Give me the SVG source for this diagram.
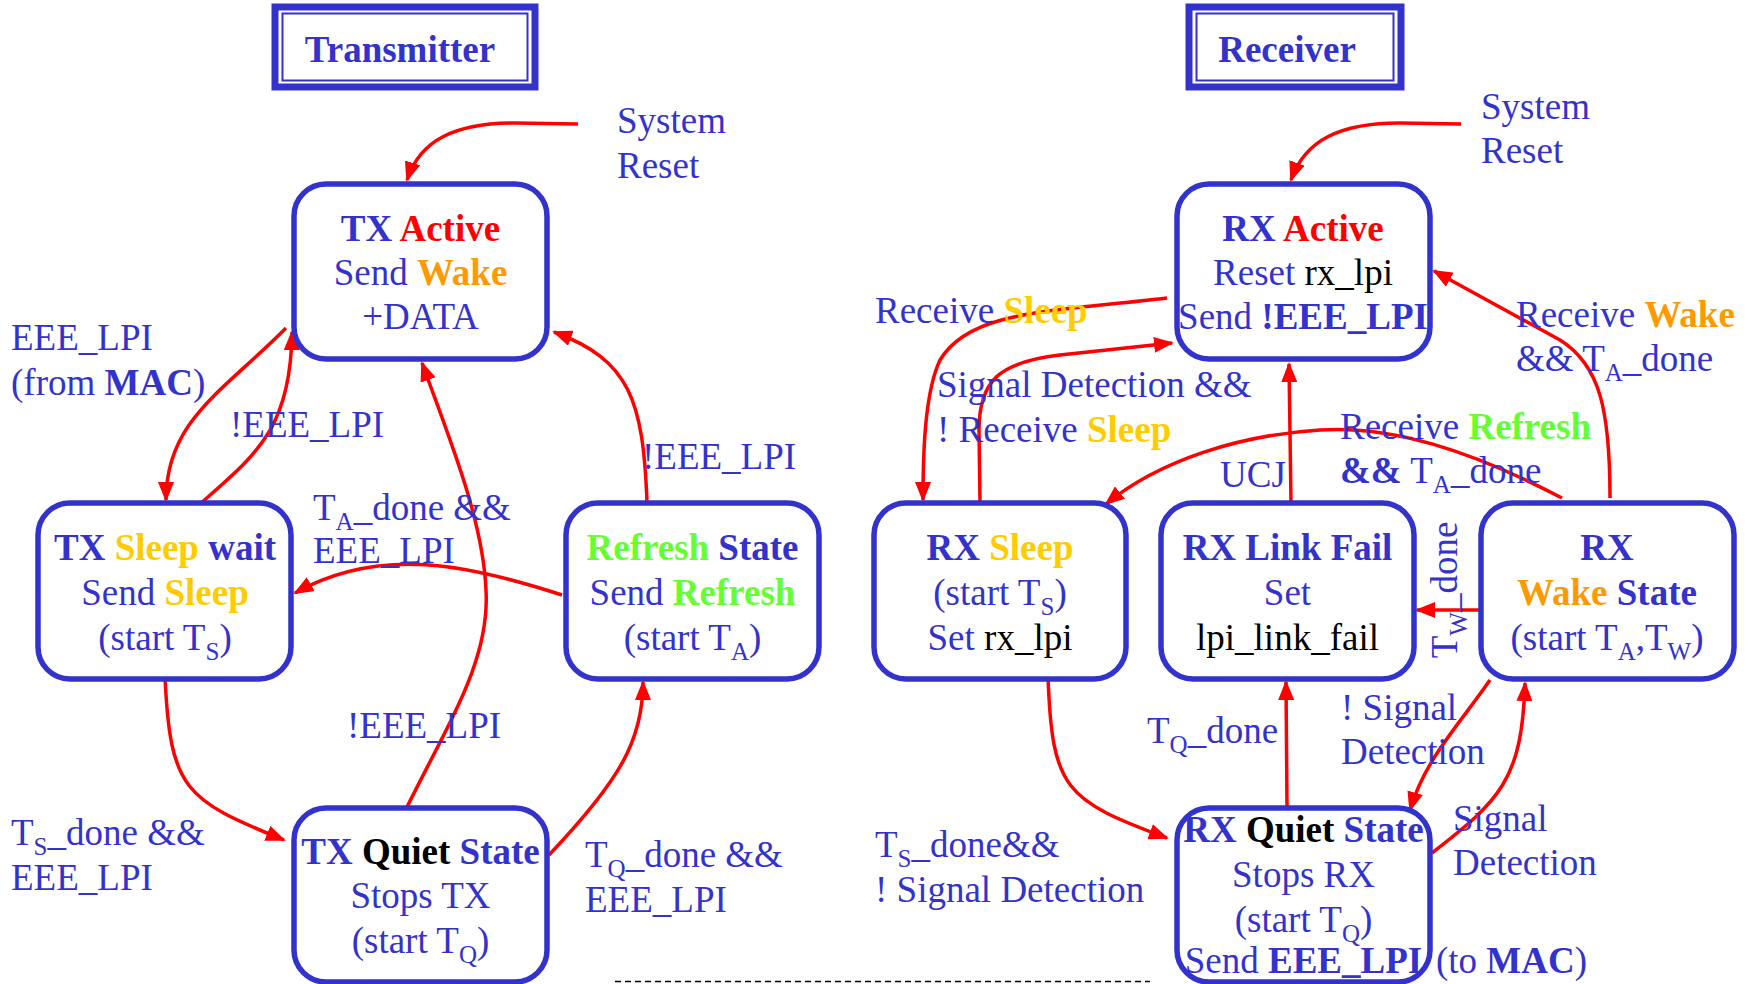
<svg xmlns="http://www.w3.org/2000/svg" width="1755" height="984" viewBox="0 0 1755 984">
<defs>
<style>
text{font-family:"Liberation Serif","Times New Roman",serif;font-size:37px;fill:#3333CC}
.b{font-weight:bold}
.red{fill:#FF0000}
.or{fill:#FF9900}
.yl{fill:#FFCC00}
.gr{fill:#66FF33}
.bk{fill:#000000}
.sub{font-size:25px}
.node{fill:#FFFFFF;stroke:#3333CC;stroke-width:5.5}
.edge{fill:none;stroke:#FF0000;stroke-width:3.5;marker-end:url(#ah)}
.mid{text-anchor:middle}
</style>
<marker id="ah" markerWidth="20" markerHeight="16" refX="18" refY="8" orient="auto" markerUnits="userSpaceOnUse">
<path d="M0,0 L20,8 L0,16 z" fill="#FF0000"/>
</marker>
</defs>
<rect width="1755" height="984" fill="#FFFFFF"/>

<!-- Titles -->
<g id="title-tx">
<rect x="275" y="7" width="260" height="80" fill="none" stroke="#3333CC" stroke-width="7"/>
<rect x="282.5" y="13.5" width="245" height="67" fill="none" stroke="#3333CC" stroke-width="2"/>
<text x="400" y="62" class="b mid">Transmitter</text>
</g>
<g id="title-rx">
<rect x="1189" y="7" width="212" height="80" fill="none" stroke="#3333CC" stroke-width="7"/>
<rect x="1196.5" y="13.5" width="197" height="67" fill="none" stroke="#3333CC" stroke-width="2"/>
<text x="1287" y="62" class="b mid">Receiver</text>
</g>

<!-- Connectors -->
<g id="connectors">
<path class="edge" d="M578,124 L515,123 C455,123 420,140 407,180"/>
<path class="edge" d="M286,328 C225,390 166,420 166,500"/>
<path class="edge" d="M200,504 C255,455 291,430 292,332"/>
<path class="edge" d="M647,502 C643,400 630,360 554,332"/>
<path class="edge" d="M405,811 C450,720 490,660 486,590 C483,520 450,440 422,363"/>
<path class="edge" d="M562,595 C470,565 380,545 295,593"/>
<path class="edge" d="M165,676 C170,790 185,800 284,840"/>
<path class="edge" d="M549,855 C620,780 643,740 643,682"/>

<path class="edge" d="M1461,124 L1400,123 C1340,123 1305,140 1291,180"/>
<path class="edge" d="M1167,298 C1050,312 970,310 940,360 C925,392 923,450 923,500"/>
<path class="edge" d="M980,502 L979,430 C979,380 1000,362 1060,355 L1172,343"/>
<path class="edge" d="M1562,498 C1470,450 1390,425 1320,430 C1240,435 1160,460 1106,504"/>
<path class="edge" d="M1610,498 C1610,410 1600,365 1560,340 L1434,271"/>
<path class="edge" d="M1291,502 L1289,364"/>
<path class="edge" d="M1479,610 L1417,610"/>
<path class="edge" d="M1048,676 C1052,790 1065,800 1167,838"/>
<path class="edge" d="M1287,806 L1286,682"/>
<path class="edge" d="M1490,680 C1455,730 1425,760 1410,810"/>
<path class="edge" d="M1432,853 C1500,800 1522,780 1525,683"/>
</g>

<!-- TX nodes -->
<g id="tx-active">
<rect class="node" x="294" y="184" width="253" height="175" rx="32"/>
<text x="420.5" y="241" class="mid"><tspan class="b">TX </tspan><tspan class="b red">Active</tspan></text>
<text x="420.5" y="285" class="mid">Send <tspan class="b or">Wake</tspan></text>
<text x="420.5" y="329" class="mid">+DATA</text>
</g>
<g id="tx-sleep">
<rect class="node" x="38" y="503" width="253" height="176" rx="32"/>
<text x="165" y="560" class="mid b">TX <tspan class="yl">Sleep</tspan> wait</text>
<text x="165" y="605" class="mid">Send <tspan class="b yl">Sleep</tspan></text>
<text x="165" y="650" class="mid">(start T<tspan class="sub" dy="10">S</tspan><tspan dy="-10">)</tspan></text>
</g>
<g id="tx-refresh">
<rect class="node" x="566" y="503" width="253" height="176" rx="32"/>
<text x="692.5" y="560" class="mid b"><tspan class="gr">Refresh</tspan> State</text>
<text x="692.5" y="605" class="mid">Send <tspan class="b gr">Refresh</tspan></text>
<text x="692.5" y="650" class="mid">(start T<tspan class="sub" dy="10">A</tspan><tspan dy="-10">)</tspan></text>
</g>
<g id="tx-quiet">
<rect class="node" x="294" y="808" width="253" height="174" rx="32"/>
<text x="420.5" y="864" class="mid b">TX <tspan class="bk">Quiet</tspan> State</text>
<text x="420.5" y="908" class="mid">Stops TX</text>
<text x="420.5" y="953" class="mid">(start T<tspan class="sub" dy="10">Q</tspan><tspan dy="-10">)</tspan></text>
</g>

<!-- RX nodes -->
<g id="rx-active">
<rect class="node" x="1177" y="184" width="253" height="175" rx="32"/>
<text x="1303" y="241" class="mid b">RX <tspan class="red">Active</tspan></text>
<text x="1303" y="285" class="mid">Reset <tspan class="bk">rx_lpi</tspan></text>
<text x="1303" y="329" class="mid">Send <tspan class="b">!EEE_LPI</tspan></text>
</g>
<g id="rx-sleep">
<rect class="node" x="874" y="503" width="252" height="176" rx="32"/>
<text x="1000" y="560" class="mid b">RX <tspan class="yl">Sleep</tspan></text>
<text x="1000" y="605" class="mid">(start T<tspan class="sub" dy="10">S</tspan><tspan dy="-10">)</tspan></text>
<text x="1000" y="650" class="mid">Set <tspan class="bk">rx_lpi</tspan></text>
</g>
<g id="rx-linkfail">
<rect class="node" x="1161" y="503" width="253" height="176" rx="32"/>
<text x="1287.5" y="560" class="mid b">RX Link Fail</text>
<text x="1287.5" y="605" class="mid">Set</text>
<text x="1287.5" y="650" class="mid bk">lpi_link_fail</text>
</g>
<g id="rx-wake">
<rect class="node" x="1481" y="503" width="253" height="176" rx="32"/>
<text x="1607" y="560" class="mid b">RX</text>
<text x="1607" y="605" class="mid b"><tspan class="or">Wake</tspan> State</text>
<text x="1607" y="650" class="mid">(start T<tspan class="sub" dy="10">A</tspan><tspan dy="-10">,T</tspan><tspan class="sub" dy="10">W</tspan><tspan dy="-10">)</tspan></text>
</g>
<g id="rx-quiet">
<rect class="node" x="1177" y="808" width="253" height="174" rx="32"/>
<text x="1303.5" y="842" class="mid b">RX <tspan class="bk">Quiet</tspan> State</text>
<text x="1303.5" y="887" class="mid">Stops RX</text>
<text x="1303.5" y="932" class="mid">(start T<tspan class="sub" dy="10">Q</tspan><tspan dy="-10">)</tspan></text>
<text x="1303.5" y="973" class="mid">Send <tspan class="b">EEE_LPI</tspan></text>
</g>

<!-- Labels -->
<g id="labels">
<text x="617" y="133">System</text>
<text x="617" y="178">Reset</text>
<text x="11" y="350">EEE_LPI</text>
<text x="11" y="395">(from <tspan class="b">MAC</tspan>)</text>
<text x="230" y="437">!EEE_LPI</text>
<text x="642" y="469">!EEE_LPI</text>
<text x="313" y="520">T<tspan class="sub" dy="10">A</tspan><tspan dy="-10">_done &amp;&amp;</tspan></text>
<text x="313" y="563">EEE_LPI</text>
<text x="347" y="738">!EEE_LPI</text>
<text x="11" y="845">T<tspan class="sub" dy="10">S</tspan><tspan dy="-10">_done &amp;&amp;</tspan></text>
<text x="11" y="890">EEE_LPI</text>
<text x="585" y="867">T<tspan class="sub" dy="10">Q</tspan><tspan dy="-10">_done &amp;&amp;</tspan></text>
<text x="585" y="912">EEE_LPI</text>

<text x="1481" y="119">System</text>
<text x="1481" y="163">Reset</text>
<text x="875" y="323">Receive <tspan class="b yl">Sleep</tspan></text>
<text x="937" y="397">Signal Detection &amp;&amp;</text>
<text x="937" y="442">! Receive <tspan class="b yl">Sleep</tspan></text>
<text x="1516" y="327">Receive <tspan class="b or">Wake</tspan></text>
<text x="1516" y="371">&amp;&amp; T<tspan class="sub" dy="10">A</tspan><tspan dy="-10">_done</tspan></text>
<text x="1220" y="487">UCJ</text>
<text x="1340" y="439">Receive <tspan class="b gr">Refresh</tspan></text>
<text x="1340" y="483"><tspan class="b">&amp;&amp;</tspan> T<tspan class="sub" dy="10">A</tspan><tspan dy="-10">_done</tspan></text>
<text x="1147" y="743">T<tspan class="sub" dy="10">Q</tspan><tspan dy="-10">_done</tspan></text>
<text x="1341" y="720">! Signal</text>
<text x="1341" y="764">Detection</text>
<text x="1453" y="831">Signal</text>
<text x="1453" y="875">Detection</text>
<text x="875" y="857">T<tspan class="sub" dy="10">S</tspan><tspan dy="-10">_done&amp;&amp;</tspan></text>
<text x="875" y="902">! Signal Detection</text>
<text x="1436" y="973">(to <tspan class="b">MAC</tspan>)</text>
<text transform="translate(1457,590) rotate(-90)" class="mid">T<tspan class="sub" dy="10">W</tspan><tspan dy="-10">_done</tspan></text>
</g>

<line x1="615" y1="981.5" x2="1150" y2="981.5" stroke="#000000" stroke-width="1.5" stroke-dasharray="6,4"/>
</svg>
